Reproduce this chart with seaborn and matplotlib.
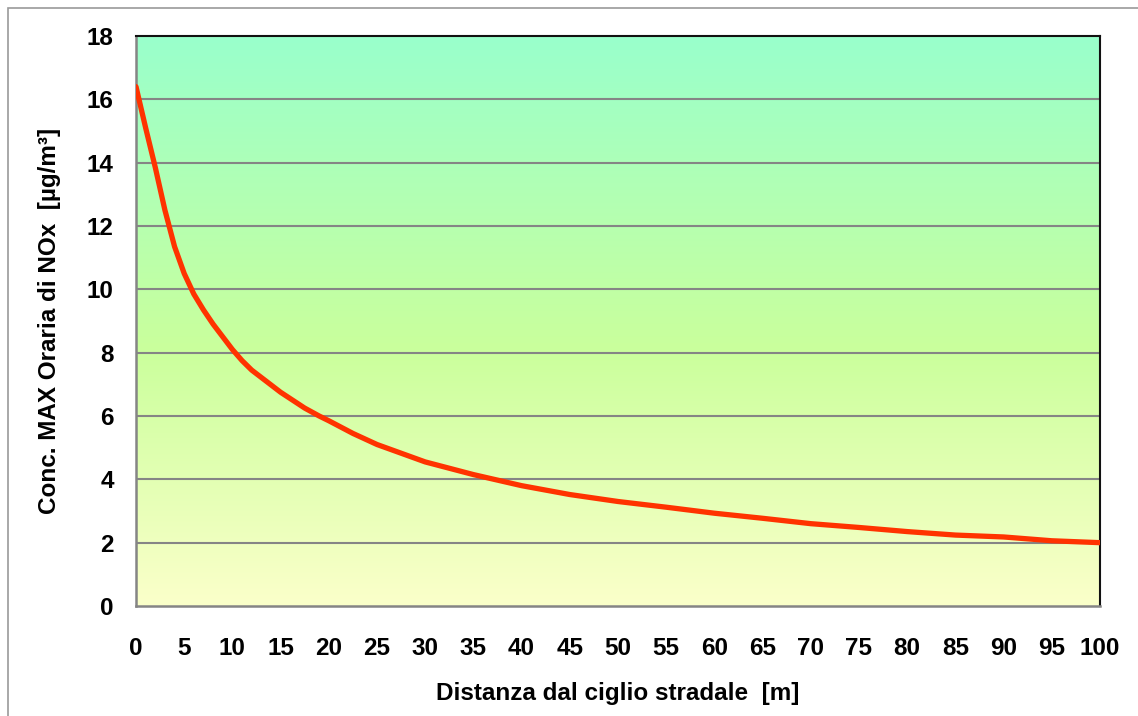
import numpy as np
import pandas as pd
import matplotlib
matplotlib.use("Agg")
import matplotlib.pyplot as plt
from matplotlib.colors import LinearSegmentedColormap
from matplotlib.patches import Rectangle
import seaborn as sns

# distance from the road edge [m] and max hourly NOx concentration [ug/m3]
distanza = [0, 1, 2, 3, 4, 5, 6, 7, 8, 9, 10, 11, 12, 13.5, 15, 17.5, 19, 20,
            22.5, 25, 30, 35, 40, 45, 50, 55, 60, 65, 70, 75, 80, 85, 90, 95, 100]
conc_nox = [16.4, 15.1, 13.85, 12.5, 11.35, 10.5, 9.85, 9.35, 8.9, 8.5, 8.1,
            7.75, 7.45, 7.1, 6.75, 6.25, 6.0, 5.85, 5.45, 5.1, 4.55, 4.15, 3.8,
            3.52, 3.3, 3.12, 2.93, 2.77, 2.6, 2.48, 2.35, 2.24, 2.18, 2.06, 2.0]

x_ticks = list(range(0, 101, 5))
y_ticks = list(range(0, 19, 2))

df = pd.DataFrame({"Distanza": distanza, "Conc": conc_nox})

sns.set_style("white")
plt.rcParams["font.family"] = ["Liberation Sans", "DejaVu Sans"]
plt.rcParams["font.weight"] = "bold"
plt.rcParams["text.color"] = "black"
plt.rcParams["axes.labelcolor"] = "black"

fig = plt.figure(figsize=(11.38, 7.16), dpi=100)
ax = fig.add_axes([136 / 1138, 1 - 606 / 716, 964 / 1138, 570 / 716])

# outer chart border (Excel chart area)
fig.patches.append(Rectangle((8 / 1138, -0.1), 1.2, 1.1 - 8 / 716,
                             transform=fig.transFigure, fill=False,
                             edgecolor="#9a9a9a", linewidth=1.2, zorder=0))

# gradient background of the plot area
grad_cmap = LinearSegmentedColormap.from_list(
    "bg", [(0.0, "#fbffca"), (0.45, "#caff9c"), (1.0, "#99ffcc")])
grad = np.linspace(0, 1, 256).reshape(-1, 1)
ax.imshow(grad, cmap=grad_cmap, aspect="auto", origin="lower",
          extent=[0, 100, 0, 18], zorder=0)

for yv in y_ticks[1:-1]:
    ax.axhline(yv, color="#858585", linewidth=1.5, zorder=1)

sns.lineplot(data=df, x="Distanza", y="Conc", ax=ax, color="#ff3300",
             linewidth=3.8, zorder=3)

ax.set_xlim(0, 100)
ax.set_ylim(0, 18)
ax.set_xticks(x_ticks)
ax.set_yticks(y_ticks)
ax.tick_params(axis="both", direction="out", length=5, width=1.5,
               color="#858585", labelcolor="black", labelsize=17.5)
ax.tick_params(axis="y", pad=11)
ax.tick_params(axis="x", pad=17)
for lab in ax.get_xticklabels() + ax.get_yticklabels():
    lab.set_fontweight("bold")

for side in ["left", "bottom"]:
    ax.spines[side].set_color("#858585")
    ax.spines[side].set_linewidth(1.8)
for side in ["top", "right"]:
    ax.spines[side].set_color("#111111")
    ax.spines[side].set_linewidth(1.5)

ax.set_xlabel("Distanza dal ciglio stradale  [m]", fontsize=17.5,
              fontweight="bold", labelpad=16, color="black")
ax.set_ylabel("Conc. MAX Oraria di NOx  [µg/m³]", fontsize=17.5,
              fontweight="bold", labelpad=19, color="black")

fig.savefig("out.png", dpi=100)
